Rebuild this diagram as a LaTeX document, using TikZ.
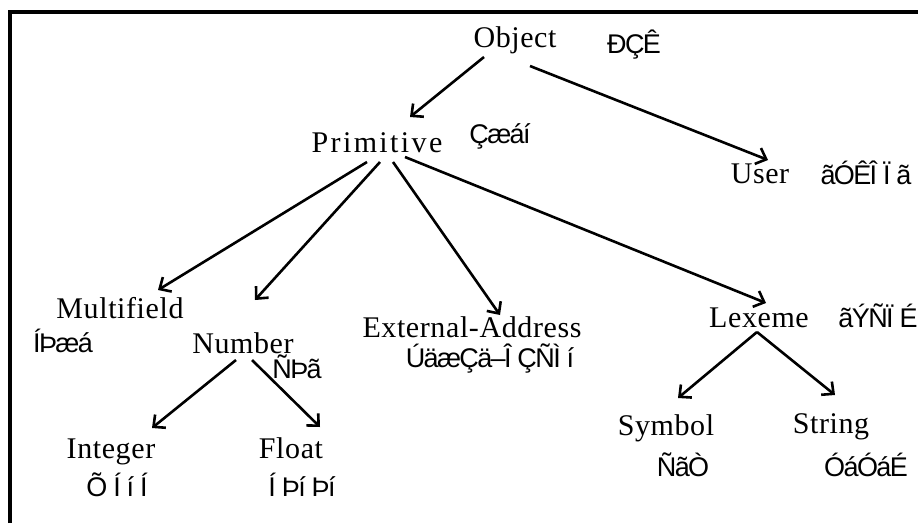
\documentclass[tikz,border=0pt]{standalone}
\usepackage{fontspec}
\setmainfont{Liberation Serif}
\newfontfamily\garb{Liberation Sans}
\usetikzlibrary{arrows.meta}
\tikzset{
  x=1pt, y=-1pt,
  lbl/.style={anchor=base, inner sep=0pt, font=\fontsize{30}{34}\selectfont\addfontfeatures{LetterSpace=2}},
  wide/.style={font=\fontsize{30}{34}\selectfont\addfontfeatures{LetterSpace=8}},
  ar/.style={anchor=base, inner sep=0pt, font=\garb\fontsize{27}{30}\selectfont\addfontfeatures{LetterSpace=-6}},
  conn/.style={line width=2.6pt, -{Straight Barb[length=9pt,width=17pt]}}
}
\begin{document}
\begin{tikzpicture}
\useasboundingbox (0,0) rectangle (918,523);
\draw[line width=4pt] (9.5,523) -- (9.5,11.5) -- (918,11.5);

\node[lbl] (obj) at (515,47) {Object};
\node[ar] (objA) at (634,53) {ÐÇÊ};
\node[lbl, wide] (prim) at (377,152) {Primitive};
\node[ar] (primA) at (500,143) {Çæáí};
\node[lbl] (user) at (760,183) {User};
\node[ar] (userA) at (866,184) {ãÓÊÎ Ï ã};
\node[lbl] (multi) at (120,318) {Multifield};
\node[ar] (multiA) at (63,352) {ÍÞæá};
\node[lbl] (num) at (243,353) {Number};
\node[ar] (numA) at (297,378) {ÑÞã};
\node[lbl] (ext) at (472,337) {External-Address};
\node[ar] (extA) at (490,367) {ÚäæÇä–Î ÇÑÌ í};
\node[lbl] (lex) at (759,327) {Lexeme};
\node[ar] (lexA) at (878,327) {ãÝÑÏ É};
\node[lbl] (sym) at (666,435) {Symbol};
\node[lbl] (str) at (831,433) {String};
\node[ar] (symA) at (683,476) {ÑãÒ};
\node[ar] (strA) at (866,476) {ÓáÓáÉ};
\node[lbl] (int) at (111,458) {Integer};
\node[lbl] (flt) at (291,458) {Float};
\node[ar] (intA) at (117,496) {Õ Í í Í};
\node[ar] (fltA) at (302,496) {Í Þí Þí};

\coordinate (o1) at (484,57);
\coordinate (o2) at (530,66);
\coordinate (p1) at (410,117);
\coordinate (u1) at (768,160);
\coordinate (ps1) at (367,162);
\coordinate (ps2) at (380,162);
\coordinate (ps3) at (393,162);
\coordinate (ps4) at (405,157);
\coordinate (m1) at (158,290);
\coordinate (n1) at (255,300);
\coordinate (e1) at (500,315);
\coordinate (l1) at (766,303);
\coordinate (ns1) at (236,360);
\coordinate (ns2) at (252,360);
\coordinate (i1) at (152,428);
\coordinate (f1) at (320,427);
\coordinate (ls) at (757,332);
\coordinate (s1) at (678,398);
\coordinate (t1) at (835,395);

\draw[conn] (o1) -- (p1);
\draw[conn] (o2) -- (u1);
\draw[conn] (ps1) -- (m1);
\draw[conn] (ps2) -- (n1);
\draw[conn] (ps3) -- (e1);
\draw[conn] (ps4) -- (l1);
\draw[conn] (ns1) -- (i1);
\draw[conn] (ns2) -- (f1);
\draw[conn] (ls) -- (s1);
\draw[conn] (ls) -- (t1);
\end{tikzpicture}
\end{document}
